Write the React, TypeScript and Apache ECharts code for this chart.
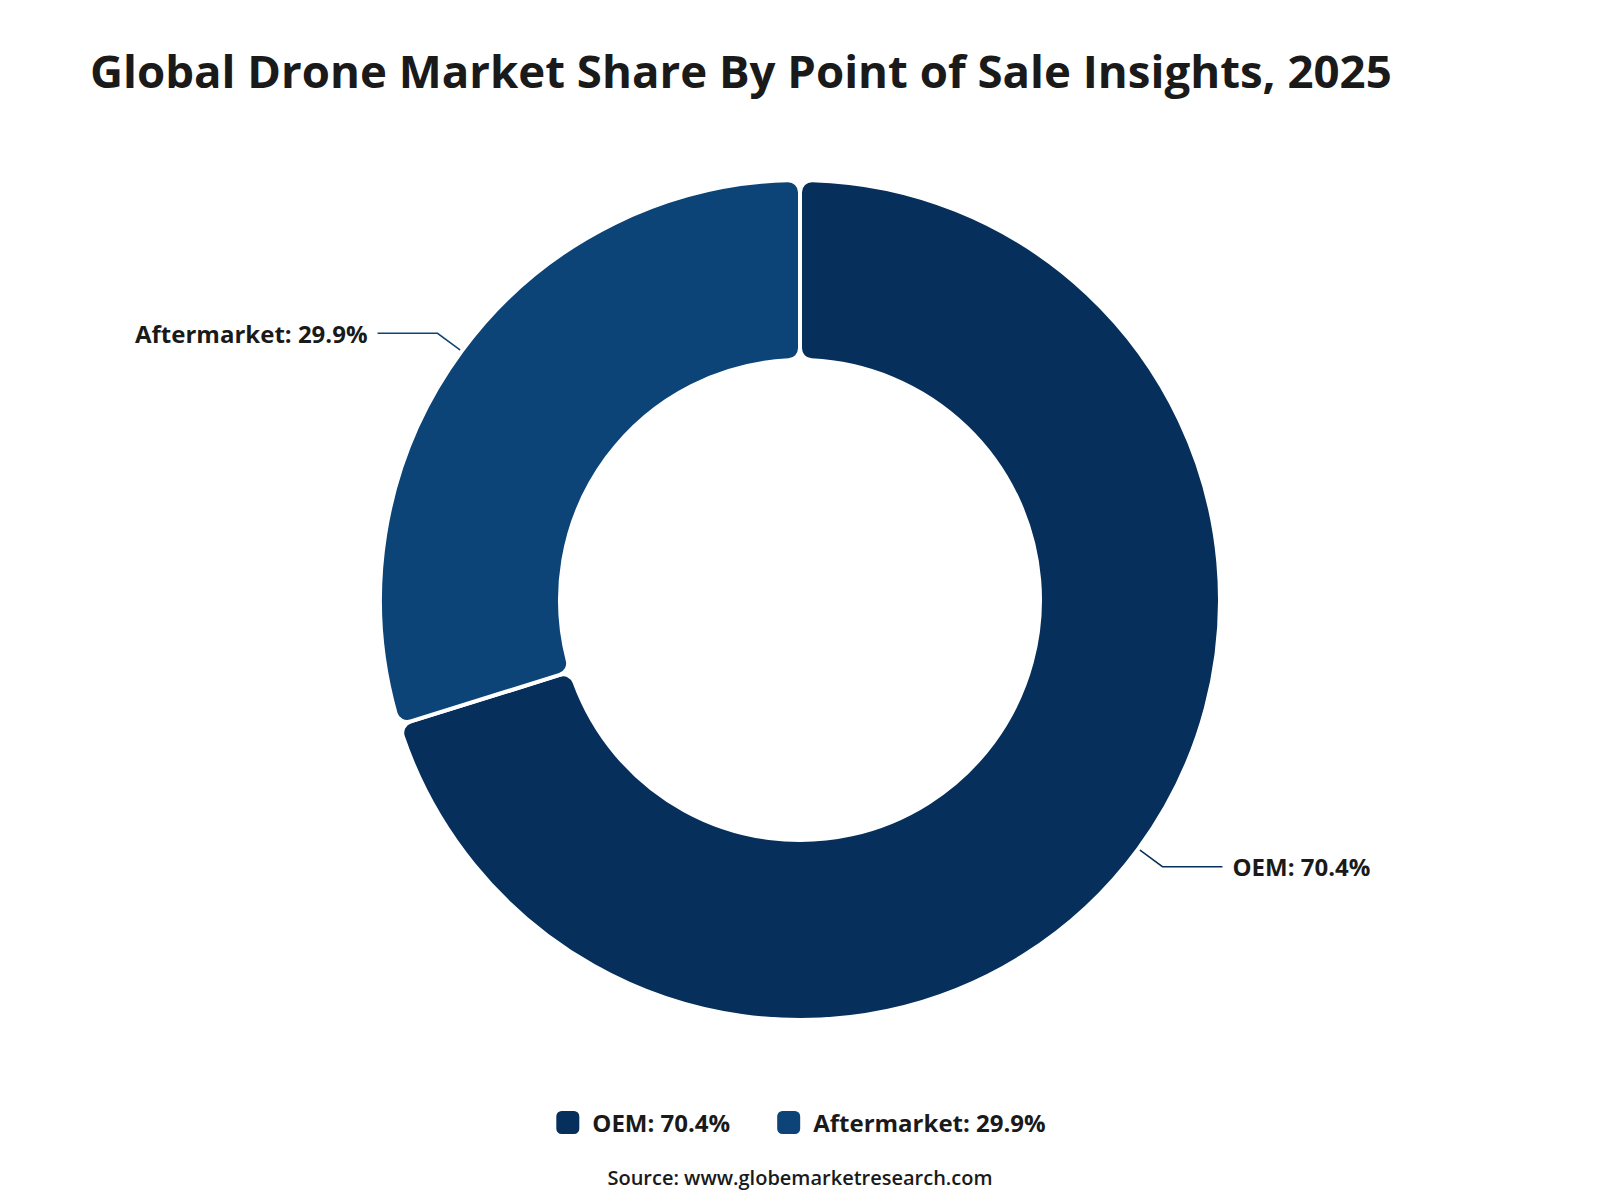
import React, { useEffect, useRef } from "react";
import * as echarts from "echarts";

const titleText = "Global Drone Market Share By Point of Sale Insights, 2025";
const sourceText = "Source: www.globemarketresearch.com";
const categories = ["OEM", "Aftermarket"];
const shares = [70.4, 29.9];
const colors = ["#062F5B", "#0C4478"];

const FONT = "'Open Sans', 'Noto Sans', sans-serif";

export default function App() {
  const ref = useRef<HTMLDivElement>(null);
  useEffect(() => {
    if (!ref.current) return;
    const chart = echarts.init(ref.current, undefined, { renderer: "svg" });
    const data = categories.map((name, i) => ({
      name,
      value: shares[i],
      itemStyle: { color: colors[i] },
    }));
    const lookup: Record<string, number> = {};
    categories.forEach((c, i) => (lookup[c] = shares[i]));
    chart.setOption({
      animation: false,
      backgroundColor: "#ffffff",
      title: [
        {
          text: titleText,
          left: 77,
          top: 34,
          textStyle: { fontFamily: FONT, fontSize: 45.6, fontWeight: "bold", color: "#1a1a1a" },
        },
        {
          text: sourceText,
          left: "center",
          top: 1154,
          textStyle: { fontFamily: FONT, fontSize: 20, fontWeight: 600, color: "#1a1a1a" },
        },
      ],
      legend: {
        data: categories,
        left: "center",
        top: 1096,
        icon: "roundRect",
        itemWidth: 25,
        itemHeight: 25,
        itemGap: 45,
        formatter: (name: string) => `${name}: ${lookup[name]}%`,
        textStyle: {
          fontFamily: FONT,
          fontSize: 24,
          fontWeight: "bold",
          color: "#1a1a1a",
          padding: [0, 0, 0, 7],
        },
      },
      series: [
        {
          type: "pie",
          center: [792, 592],
          radius: [240, 420],
          startAngle: 90,
          clockwise: true,
          itemStyle: { borderColor: "#ffffff", borderWidth: 4, borderRadius: 12 },
          label: {
            show: true,
            formatter: (p: any) => `${p.name}: ${p.value}%`,
            fontFamily: FONT,
            fontSize: 24,
            fontWeight: "bold",
            color: "#1a1a1a",
            distanceToLabelLine: 10,
          },
          labelLine: {
            show: true,
            length: 30,
            length2: 60,
            lineStyle: { width: 1.5 },
          },
          emphasis: { disabled: true },
          data,
        },
      ],
    });
    return () => chart.dispose();
  }, []);
  return <div ref={ref} style={{ width: 1584, height: 1184 }} />;
}
